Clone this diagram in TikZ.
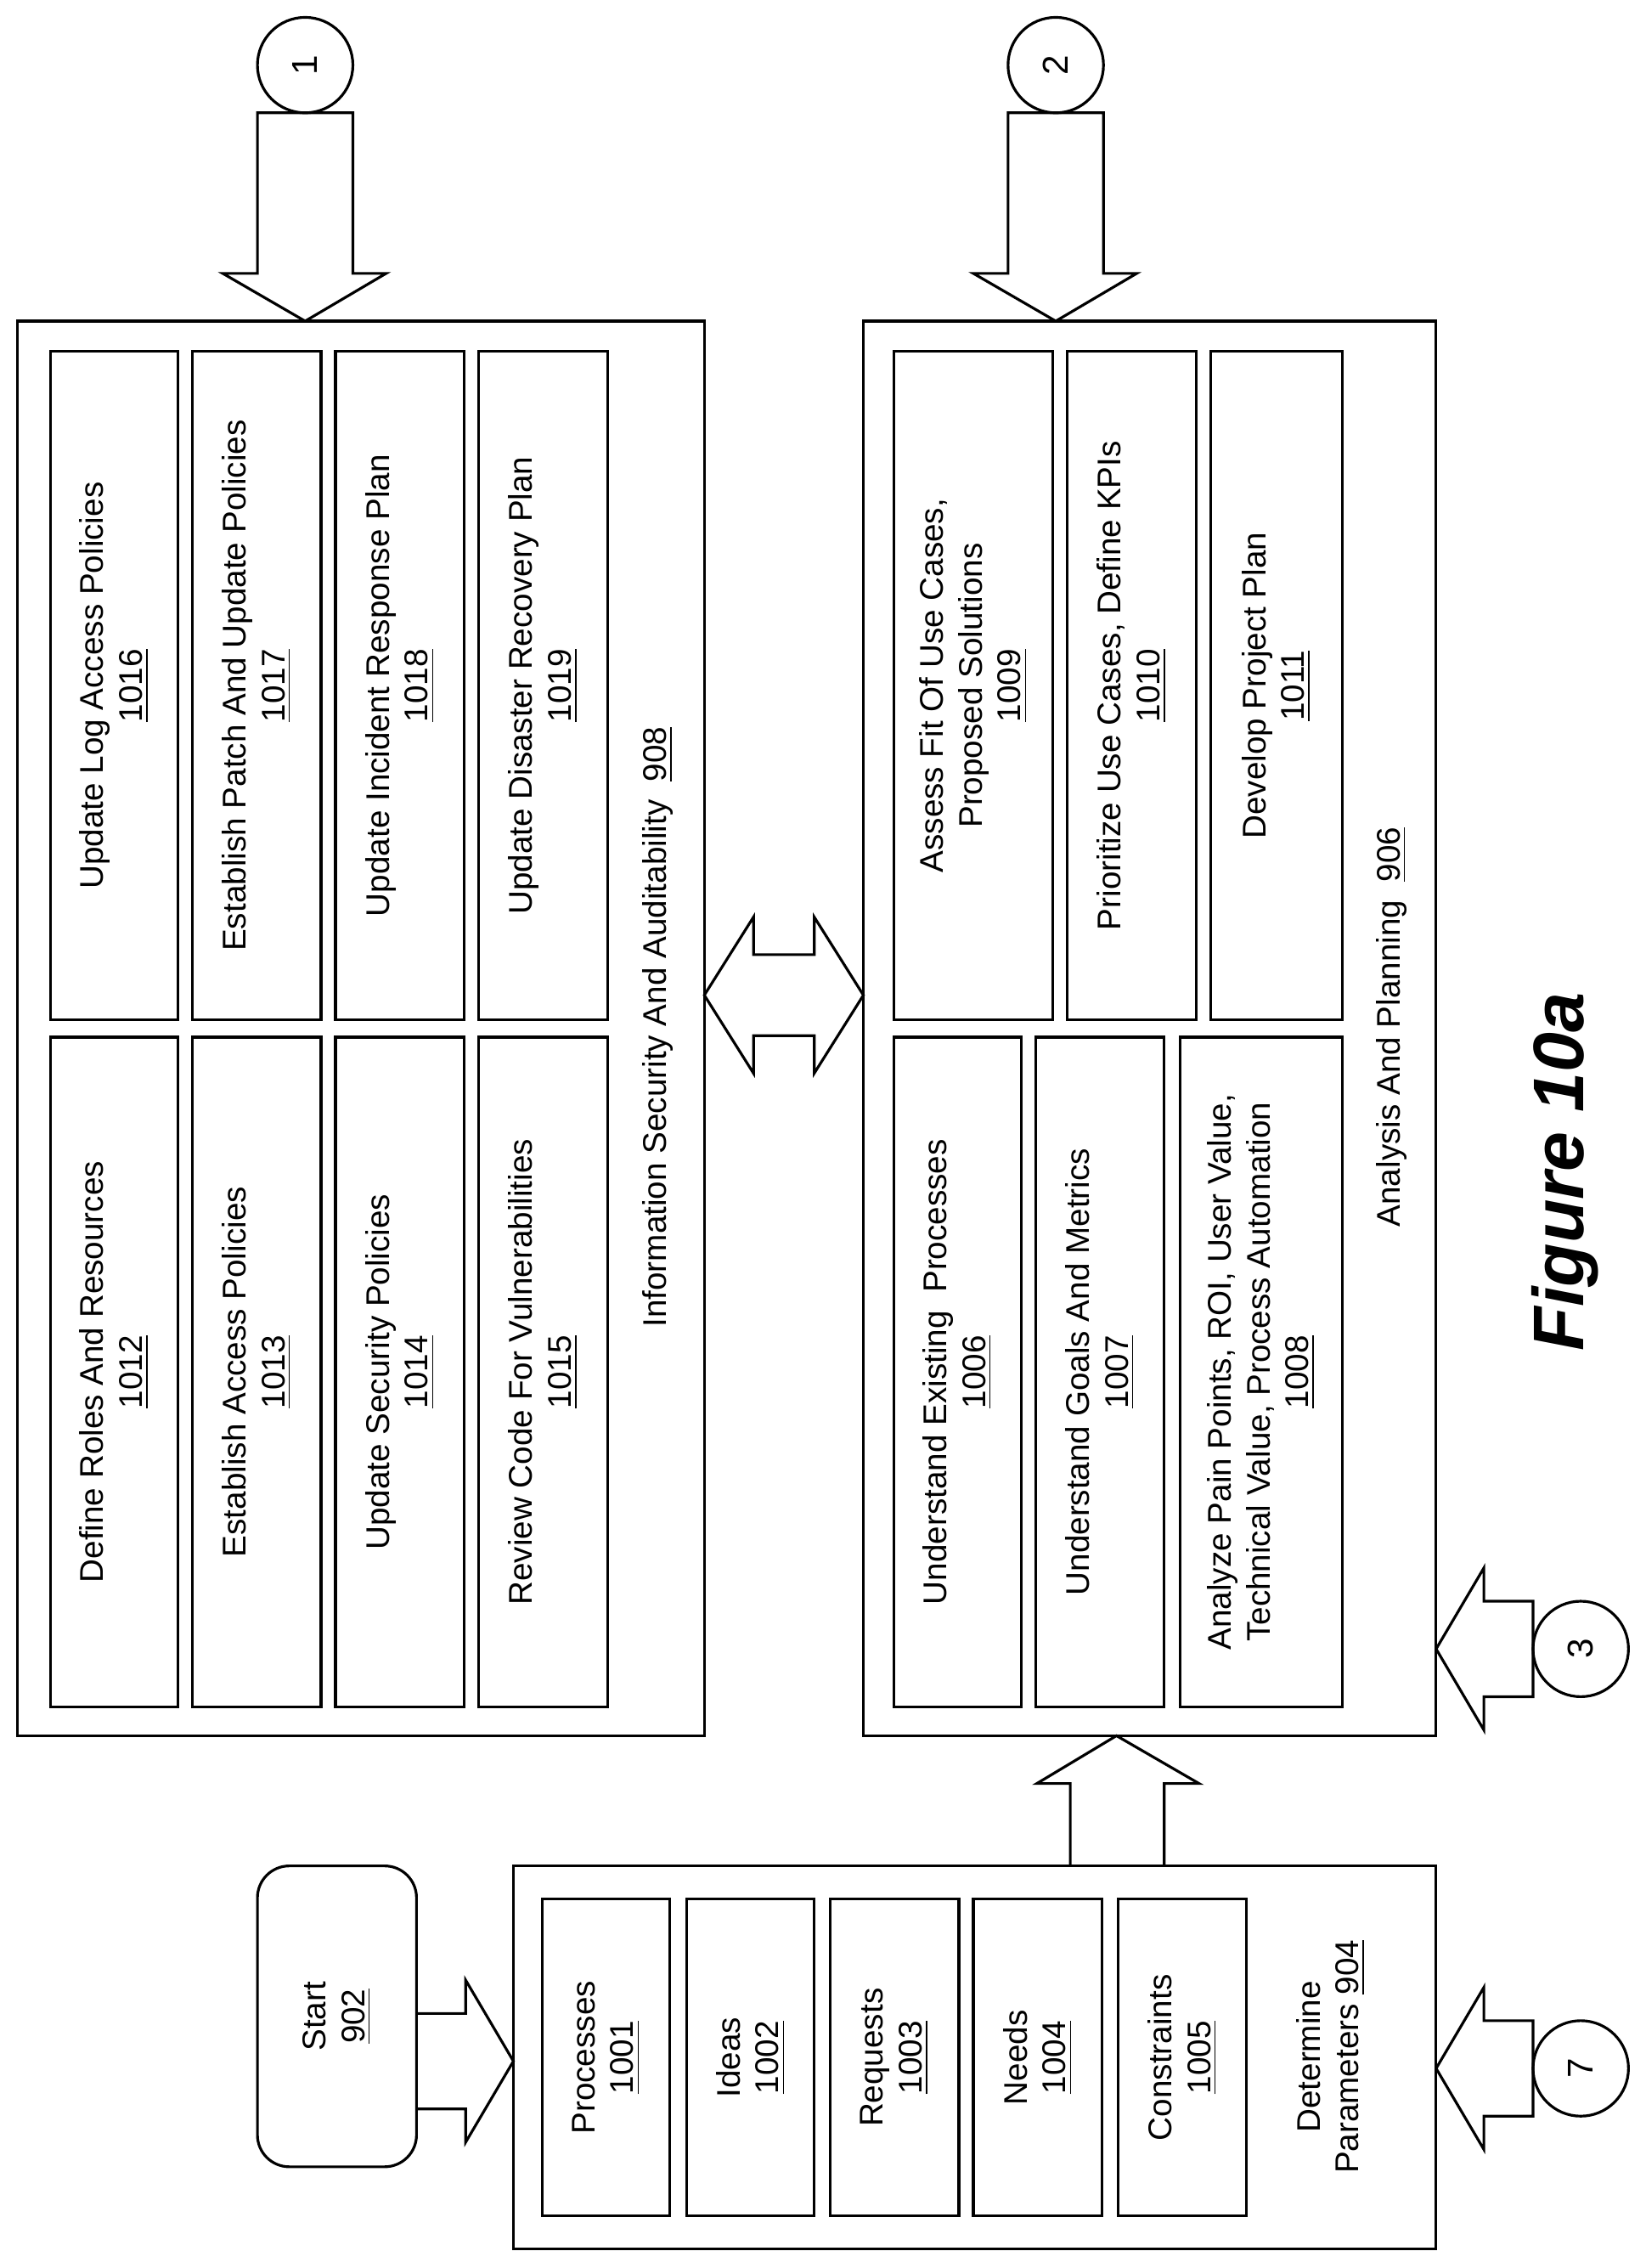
\documentclass[tikz,border=0pt]{standalone}
\usepackage{fontspec}
\setmainfont{Liberation Sans}
\begin{document}
\begin{tikzpicture}[x=0.01703cm,y=-0.01703cm,line width=0.9pt,
  txt/.style={rotate=90,align=center,font=\fontsize{11}{13}\selectfont,inner sep=0pt},
  circ/.style={draw,circle,minimum size=66*0.01703cm,inner sep=0pt,font=\fontsize{12}{14}\selectfont}]
\useasboundingbox (0,0) rectangle (1138,1568);
\newcommand{\bx}[6]{\draw (#2,#3) rectangle (#4,#5); \node[txt] (#1) at ({(#2+#4)/2},{(#3+#5)/2}) {#6};}
% Box 908
\draw (12,222) rectangle (487,1200);
\node[txt] (l908) at (455,710) {Information Security And Auditability\ \ \underline{908}};
\bx{b1012}{35}{717}{123}{1180}{Define Roles And Resources\\\underline{1012}}
\bx{b1013}{133}{717}{222}{1180}{Establish Access Policies\\\underline{1013}}
\bx{b1014}{232}{717}{321}{1180}{Update Security Policies\\\underline{1014}}
\bx{b1015}{331}{717}{420}{1180}{Review Code For Vulnerabilities\\\underline{1015}}
\bx{b1016}{35}{243}{123}{705}{Update Log Access Policies\\\underline{1016}}
\bx{b1017}{133}{243}{222}{705}{Establish Patch And Update Policies\\\underline{1017}}
\bx{b1018}{232}{243}{321}{705}{Update Incident Response Plan\\\underline{1018}}
\bx{b1019}{331}{243}{420}{705}{Update Disaster Recovery Plan\\\underline{1019}}
% Box 906
\draw (597,222) rectangle (993,1200);
\node[txt] (l906) at (962,710) {Analysis And Planning\ \ \underline{906}};
\bx{b1009}{618}{243}{728}{705}{Assess Fit Of Use Cases,\\Proposed Solutions\\\underline{1009}}
\bx{b1010}{738}{243}{827}{705}{Prioritize Use Cases, Define KPIs\\\underline{1010}}
\bx{b1011}{837}{243}{928}{705}{Develop Project Plan\\\underline{1011}}
\bx{b1006}{618}{717}{706}{1180}{Understand Existing\ \ Processes\\\underline{1006}}
\bx{b1007}{716}{717}{805}{1180}{Understand Goals And Metrics\\\underline{1007}}
\bx{b1008}{816}{717}{928}{1180}{Analyze Pain Points, ROI, User Value,\\Technical Value, Process Automation\\\underline{1008}}
% Box 904
\draw (355,1290) rectangle (993,1555);
\node[txt] (l904) at (920,1422) {Determine\\Parameters \underline{904}};
\bx{b1001}{375}{1313}{463}{1532}{Processes\\\underline{1001}}
\bx{b1002}{475}{1313}{563}{1532}{Ideas\\\underline{1002}}
\bx{b1003}{574}{1313}{663}{1532}{Requests\\\underline{1003}}
\bx{b1004}{673}{1313}{762}{1532}{Needs\\\underline{1004}}
\bx{b1005}{773}{1313}{862}{1532}{Constraints\\\underline{1005}}
% Start
\draw[rounded corners=22*0.01703cm] (178,1290) rectangle (288,1498);
\node[txt] (start) at (233,1394) {Start\\\underline{902}};
% circles
\node[circ] (c1) at (211,45) {\rotatebox{90}{1}};
\node[circ] (c2) at (730,45) {\rotatebox{90}{2}};
\node[circ] (c3) at (1093,1140) {\rotatebox{90}{3}};
\node[circ] (c7) at (1093,1430) {\rotatebox{90}{7}};
% block arrows
\draw[line join=miter] (178,78) -- (244,78) -- (244,189) -- (267,189) -- (211,222) -- (154,189) -- (178,189) -- cycle;
\draw[line join=miter] (697,78) -- (763,78) -- (763,189) -- (786,189) -- (730,222) -- (673,189) -- (697,189) -- cycle;
\draw[line join=miter] (1060,1107) -- (1060,1173) -- (1026,1173) -- (1026,1196) -- (993,1140) -- (1026,1084) -- (1026,1107) -- cycle;
\draw[line join=miter] (1060,1397) -- (1060,1463) -- (1026,1463) -- (1026,1486) -- (993,1430) -- (1026,1374) -- (1026,1397) -- cycle;
\draw[line join=miter] (288,1392) -- (322,1392) -- (322,1369) -- (355,1425) -- (322,1481) -- (322,1458) -- (288,1458);
\draw[line join=miter] (740,1290) -- (740,1233) -- (717,1233) -- (772,1200) -- (829,1233) -- (805,1233) -- (805,1290);
\draw[line join=miter] (487,688) -- (521,634) -- (521,660) -- (563,660) -- (563,634) -- (597,688) -- (563,742) -- (563,716) -- (521,716) -- (521,742) -- cycle;
% figure label
\node[rotate=90,font=\fontsize{24}{28}\selectfont\bfseries\itshape] (fig) at (1082,810) {Figure 10a};
\end{tikzpicture}
\end{document}
